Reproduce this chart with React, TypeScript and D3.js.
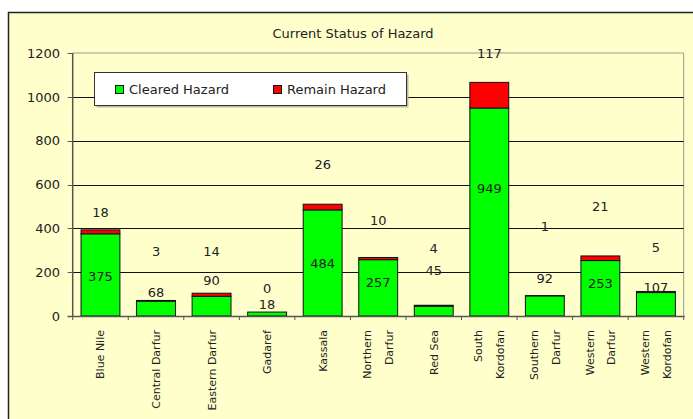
import React from "react";
import * as d3 from "d3";

const categories: string[][] = [
  ["Blue Nile"],
  ["Central Darfur"],
  ["Eastern Darfur"],
  ["Gadaref"],
  ["Kassala"],
  ["Northern", "Darfur"],
  ["Red Sea"],
  ["South", "Kordofan"],
  ["Southern", "Darfur"],
  ["Western", "Darfur"],
  ["Western", "Kordofan"],
];
const cleared = [375, 68, 90, 18, 484, 257, 45, 949, 92, 253, 107];
const remain = [18, 3, 14, 0, 26, 10, 4, 117, 1, 21, 5];
// label anchor heights in axis units, as placed in the original chart
const clearedLabelAt = [183, 106, 163, 53, 242, 152, 207, 581, 172, 149, 129];
const remainLabelAt = [473, 293, 293, 126, 693, 438, 309, 1199, 411, 499, 313];
const yTicks = [0, 200, 400, 600, 800, 1000, 1200];
const seriesNames = ["Cleared Hazard", "Remain Hazard"];
const seriesColors = ["#00FF00", "#FF0000"];

const FONT = "'DejaVu Sans', Verdana, sans-serif";

export default function App() {
  const left = 72.7, right = 683.7, top = 53, bottom = 316;
  const keys = categories.map((c) => c.join(" "));
  const x = d3.scaleBand<string>().domain(keys).range([left, right]).paddingInner(0.3).paddingOuter(0.15);
  const slot = d3.scaleBand<string>().domain(keys).range([left, right]).padding(0);
  const y = d3.scaleLinear().domain([0, 1200]).range([bottom, top]);
  const rows = keys.map((k, i) => ({ key: k, Cleared: cleared[i], Remain: remain[i] }));
  const stacked = d3.stack<any>().keys(["Cleared", "Remain"])(rows);

  return (
    <svg width={693} height={419} style={{ position: "absolute", left: 0, top: 0 }} fontFamily={FONT}>
      <rect x={0} y={0} width={693} height={419} fill="#ffffff" />
      <rect x={8.5} y={12.5} width={700} height={420} fill="#FFFFCC" stroke="#222" strokeWidth={1.5} />
      <text x={353} y={38} textAnchor="middle" fontSize={13} fill="#222">Current Status of Hazard</text>

      {/* plot area border */}
      <line x1={left} x2={right} y1={top} y2={top} stroke="#999" />
      <line x1={right} x2={right} y1={top} y2={bottom} stroke="#999" />
      {yTicks.filter((t) => t > 0 && t < 1200).map((t) => (
        <line key={t} x1={left} x2={right} y1={Math.round(y(t)) + 0.5} y2={Math.round(y(t)) + 0.5} stroke="#111" />
      ))}

      {/* bars */}
      {stacked.map((s, si) => (
        <g key={si}>
          {s.map((d, i) => (
            d[1] - d[0] > 0 ? (
              <rect key={i} x={x(keys[i])!} y={y(d[1])} width={x.bandwidth()} height={y(d[0]) - y(d[1])}
                fill={seriesColors[si]} stroke="#111" strokeWidth={1} />
            ) : null
          ))}
        </g>
      ))}

      {/* axes */}
      <line x1={left} x2={left} y1={top} y2={bottom} stroke="#555" strokeWidth={1.5} />
      <line x1={left - 5} x2={right + 1} y1={bottom + 0.5} y2={bottom + 0.5} stroke="#555" strokeWidth={1.5} />
      {yTicks.map((t) => (
        <g key={t}>
          <line x1={left - 5} x2={left} y1={Math.round(y(t)) + 0.5} y2={Math.round(y(t)) + 0.5} stroke="#555" />
          <text x={60} y={y(t)} dy="0.36em" textAnchor="end" fontSize={13} fill="#222">{t}</text>
        </g>
      ))}
      {keys.map((k) => (
        <line key={k} x1={slot(k)!} x2={slot(k)!} y1={bottom} y2={bottom + 4} stroke="#555" />
      ))}
      <line x1={right} x2={right} y1={bottom} y2={bottom + 4} stroke="#555" />

      {/* category labels */}
      {categories.map((lines, i) => {
        const cx = x(keys[i])! + x.bandwidth() / 2;
        return lines.map((ln, j) => {
          const off = lines.length === 1 ? 0 : (j === 0 ? -10.8 : 10.8);
          const lx = cx + off;
          return (
            <text key={i + "-" + j} transform={`translate(${lx},330) rotate(-90)`} textAnchor="end" dy="0.36em"
              fontSize={11} fill="#222">{ln}</text>
          );
        });
      })}

      {/* data labels */}
      {keys.map((k, i) => {
        const cx = x(k)! + x.bandwidth() / 2;
        return (
          <g key={k}>
            <text x={cx} y={y(clearedLabelAt[i])} dy="0.36em" textAnchor="middle" fontSize={13} fill="#222">{cleared[i]}</text>
            <text x={cx} y={y(remainLabelAt[i])} dy="0.36em" textAnchor="middle" fontSize={13} fill="#222">{remain[i]}</text>
          </g>
        );
      })}

      {/* legend */}
      <rect x={96.5} y={74.5} width={312} height={33} fill="#bbbb99" />
      <rect x={94.5} y={72.5} width={312} height={33} fill="#ffffff" stroke="#333" />
      {seriesNames.map((n, i) => {
        const lx = [115.5, 273.5][i];
        return (
          <g key={n}>
            <rect x={lx} y={85.5} width={8} height={8} fill={seriesColors[i]} stroke="#111" />
            <text x={lx + 13.5} y={89.5} dy="0.36em" fontSize={13} fill="#222">{n}</text>
          </g>
        );
      })}
    </svg>
  );
}
